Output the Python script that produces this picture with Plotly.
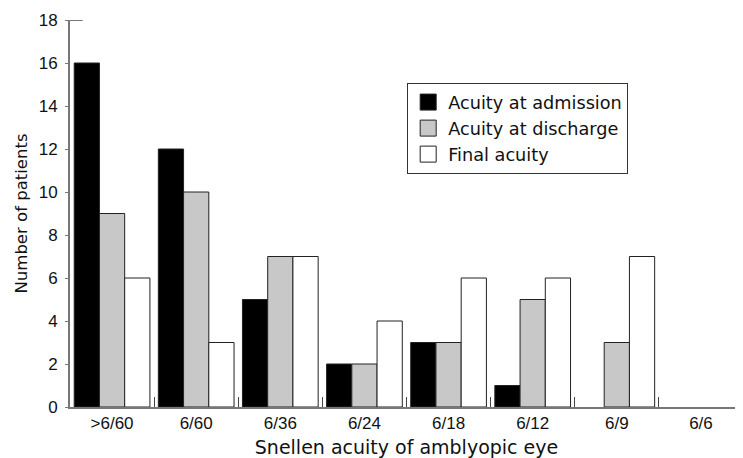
import plotly.graph_objects as go

categories = [">6/60", "6/60", "6/36", "6/24", "6/18", "6/12", "6/9", "6/6"]
admission = [16, 12, 5, 2, 3, 1, 0, 0]
discharge = [9, 10, 7, 2, 3, 5, 3, 0]
final = [6, 3, 7, 4, 6, 6, 7, 0]
y_ticks = [0, 2, 4, 6, 8, 10, 12, 14, 16, 18]

TICKFONT = "Liberation Sans, Arial, sans-serif"
TEXTFONT = "DejaVu Sans, sans-serif"
fig = go.Figure()
series = [
    ("Acuity at admission", admission, "#000000"),
    ("Acuity at discharge", discharge, "#c8c8c8"),
    ("Final acuity", final, "#ffffff"),
]
for name, vals, col in series:
    fig.add_trace(go.Bar(
        x=categories, y=vals, name=name, showlegend=False,
        marker=dict(color=col, line=dict(color="#222222",
                                         width=[0 if v == 0 else 1 for v in vals])),
    ))
    # legend entry with a larger square swatch
    fig.add_trace(go.Scatter(
        x=[None], y=[None], mode="markers", name=name,
        marker=dict(symbol="square", size=16, color=col,
                    line=dict(color="#222222", width=1)),
    ))

fig.update_layout(
    width=735, height=450,
    margin=dict(l=62, r=0, t=12, b=51),
    barmode="group", bargap=0.1, bargroupgap=0,
    plot_bgcolor="white", paper_bgcolor="white",
    font=dict(family=TICKFONT, size=17, color="#111111"),
    showlegend=True,
    legend=dict(
        x=0.501, y=0.837, xanchor="left", yanchor="top",
        bordercolor="#333333", borderwidth=1,
        font=dict(size=17.7, family=TEXTFONT),
        tracegroupgap=0, itemsizing="trace",
    ),
    xaxis=dict(
        type="category", showline=True, linecolor="#777777", linewidth=2,
        ticks="inside", tickson="boundaries", ticklen=10, tickcolor="#444444", tickwidth=1,
        tickfont=dict(size=17), showgrid=False, zeroline=False,
        title=dict(text="Snellen acuity of amblyopic eye",
                   font=dict(size=19, family=TEXTFONT), standoff=11),
    ),
    yaxis=dict(
        range=[0, 18], tickvals=y_ticks, showline=True, linecolor="#777777", linewidth=2,
        ticks="outside", ticklen=3, tickcolor="#777777", showgrid=False, zeroline=False,
        tickfont=dict(size=17), ticklabelstandoff=4,
        title=dict(text="Number of patients", font=dict(size=16.5, family=TEXTFONT), standoff=7),
    ),
)
fig.add_shape(type="line", xref="paper", yref="y", x0=0, x1=0.019, y0=18, y1=18,
              line=dict(color="#777777", width=2))

fig.write_html("out.html")
